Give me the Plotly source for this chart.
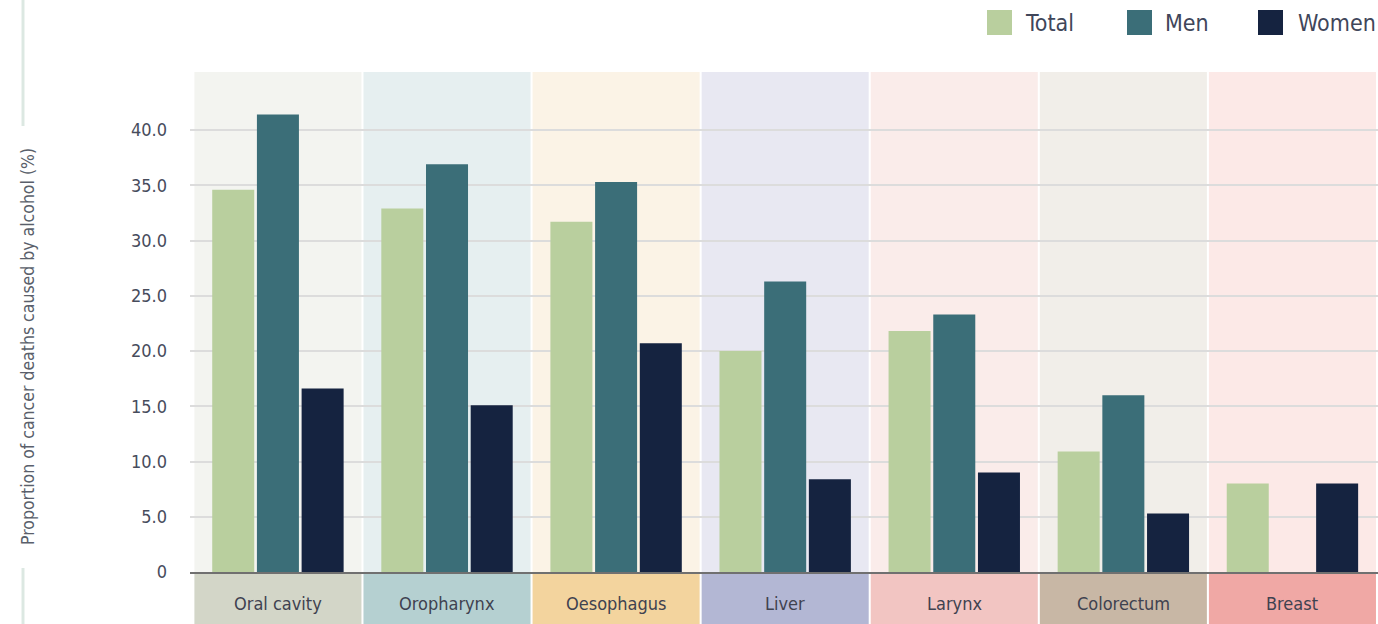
import plotly.graph_objects as go

categories = ["Oral cavity", "Oropharynx", "Oesophagus", "Liver", "Larynx", "Colorectum", "Breast"]
series_names = ["Total", "Men", "Women"]
total = [34.6, 32.9, 31.7, 20.0, 21.8, 10.9, 8.0]
men = [41.4, 36.9, 35.3, 26.3, 23.3, 16.0, None]
women = [16.6, 15.1, 20.7, 8.4, 9.0, 5.3, 8.0]
tick_vals = [0, 5, 10, 15, 20, 25, 30, 35, 40]
tick_text = ["0", "5.0", "10.0", "15.0", "20.0", "25.0", "30.0", "35.0", "40.0"]
y_title = "Proportion of cancer deaths caused by alcohol (%)"

series_colors = ["#b9cf9e", "#3b6e78", "#152340"]
panel_colors = ["#f3f4f0", "#e6eff0", "#fbf3e6", "#e8e8f2", "#faecea", "#f1eee9", "#fce9e7"]
label_colors = ["#d3d6c8", "#b5d0d1", "#f3d49e", "#b3b7d4", "#f2c5c2", "#c8b7a5", "#f0a8a5"]

FONT = "DejaVu Sans Condensed, Roboto, sans-serif"
W, H = 1378, 624
ML, MR, MT, MB = 190, 0, 72, 52
PW = W - ML - MR
PH = H - MT - MB
XR = [-0.52, 6.506]

fig = go.Figure()
for name, vals, col in zip(series_names, [total, men, women], series_colors):
    fig.add_trace(go.Bar(x=list(range(len(categories))), y=vals, name=name,
                         marker=dict(color=col, line=dict(width=0)), showlegend=False))

shapes = []
annotations = []
g = 0.006
for i, cat in enumerate(categories):
    shapes.append(dict(type="rect", xref="x", yref="paper", x0=i - 0.5 + g, x1=i + 0.5 - g,
                       y0=0, y1=1, fillcolor=panel_colors[i], line=dict(width=0), layer="below"))
    shapes.append(dict(type="rect", xref="x", yref="paper", x0=i - 0.5 + g, x1=i + 0.5 - g,
                       y0=-0.2, y1=-0.004, fillcolor=label_colors[i], line=dict(width=0), layer="below"))
    annotations.append(dict(x=i, y=-0.062, xref="x", yref="paper", text=cat, showarrow=False,
                            xanchor="center", yanchor="middle",
                            font=dict(family=FONT, size=18, color="#3f4250")))

# legend (manual)
def px2x(px):
    return (px - ML) / PW

def py2y(py):
    return (H - MB - py) / PH

leg_sq = [987, 1127, 1258]
leg_tx = [1023, 1163, 1296]
for name, col, sx, tx in zip(series_names, series_colors, leg_sq, leg_tx):
    shapes.append(dict(type="rect", xref="paper", yref="paper", x0=px2x(sx), x1=px2x(sx + 25),
                       y0=py2y(35), y1=py2y(10), fillcolor=col, line=dict(width=0)))
    annotations.append(dict(x=px2x(tx), y=py2y(23), xref="paper", yref="paper", text=name,
                            showarrow=False, xanchor="left", yanchor="middle",
                            font=dict(family=FONT, size=23, color="#40465a")))

# decorative left line
shapes.append(dict(type="line", xref="paper", yref="paper", x0=px2x(23), x1=px2x(23),
                   y0=py2y(0), y1=py2y(126), line=dict(color="#dce8e2", width=3)))
shapes.append(dict(type="line", xref="paper", yref="paper", x0=px2x(23), x1=px2x(23),
                   y0=py2y(568), y1=py2y(630), line=dict(color="#dce8e2", width=3)))

annotations.append(dict(x=px2x(28), y=py2y(347), xref="paper", yref="paper", text=y_title,
                        showarrow=False, textangle=-90, xanchor="center", yanchor="middle",
                        font=dict(family=FONT, size=17.5, color="#5a5f6b")))

fig.update_layout(
    width=W, height=H,
    margin=dict(l=ML, r=MR, t=MT, b=MB),
    paper_bgcolor="white", plot_bgcolor="white",
    barmode="group", bargap=0.207, bargroupgap=0.06,
    shapes=shapes, annotations=annotations,
    xaxis=dict(range=XR, showticklabels=False, showgrid=False, zeroline=False,
               showline=True, linecolor="#707070", linewidth=2, ticks=""),
    yaxis=dict(range=[0, 45.25], tickvals=tick_vals, ticktext=tick_text, showgrid=True,
               gridcolor="#dcdcdc", gridwidth=2, zeroline=False, ticks="",
               ticklabelstandoff=22,
               tickfont=dict(family=FONT, size=18, color="#474c5c")),
    font=dict(family=FONT),
)

fig.write_html("out.html")
